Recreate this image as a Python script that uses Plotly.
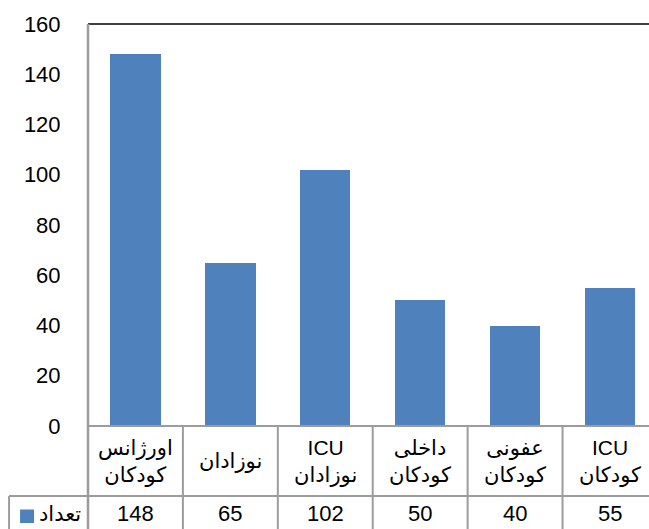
import plotly.graph_objects as go

categories = ["اورژانس<br>کودکان", "نوزادان", "ICU<br>نوزادان", "داخلی<br>کودکان", "عفونی<br>کودکان", "ICU<br>کودکان"]
values = [148, 65, 102, 50, 40, 55]
series_name = "تعداد"
y_ticks = [0, 20, 40, 60, 80, 100, 120, 140, 160]

W, H = 649, 529
L, T, B_AX = 87.5, 24, 426          # plot-area left, top, bottom (px)
PW, PH = W - L, B_AX - T
ROW2 = 496                          # table row separator (px)
XMIN, XMAX = -0.5, 5.411

BAR = "#4F81BD"
GRID = "#9c9c9c"
FONT = "Liberation Sans, DejaVu Sans, Arial, sans-serif"

def px_x(X):
    return (X - L) / PW

def px_y(Y):
    return (B_AX - Y) / PH

def cat_x(v):
    return (v - XMIN) / (XMAX - XMIN)

xs = list(range(len(categories)))

fig = go.Figure(go.Bar(x=xs, y=values, width=0.53, marker=dict(color=BAR, line=dict(width=0)), name=series_name))

shapes = []
# top border (black)
shapes.append(dict(type="line", xref="paper", yref="paper", x0=0, x1=1, y0=1, y1=1, line=dict(color="black", width=1.5)))
# left axis line through table
shapes.append(dict(type="line", xref="paper", yref="paper", x0=0, x1=0, y0=1, y1=px_y(535), line=dict(color=GRID, width=2.5)))
# bottom axis line
shapes.append(dict(type="line", xref="paper", yref="paper", x0=0, x1=1, y0=0, y1=0, line=dict(color=GRID, width=2)))
# table row separator
shapes.append(dict(type="line", xref="paper", yref="paper", x0=px_x(8.5), x1=1, y0=px_y(ROW2), y1=px_y(ROW2), line=dict(color=GRID, width=2)))
# table left edge
shapes.append(dict(type="line", xref="paper", yref="paper", x0=px_x(8.5), x1=px_x(8.5), y0=px_y(ROW2), y1=px_y(535), line=dict(color=GRID, width=2)))
# column separators
for i in range(len(categories) - 1):
    xp = cat_x(i + 0.5)
    shapes.append(dict(type="line", xref="paper", yref="paper", x0=xp, x1=xp, y0=0, y1=px_y(535), line=dict(color=GRID, width=2)))
# legend key square
shapes.append(dict(type="rect", xref="paper", yref="paper", x0=px_x(19.5), x1=px_x(33.5), y0=px_y(523), y1=px_y(509.5), fillcolor=BAR, line=dict(width=0)))

annotations = []
for i, c in enumerate(categories):
    annotations.append(dict(x=i, xref="x", y=px_y(461), yref="paper", text=c, showarrow=False,
                            xanchor="center", yanchor="middle", font=dict(family=FONT, size=21, color="black")))
    annotations.append(dict(x=i, xref="x", y=px_y(513.5), yref="paper", text=str(values[i]), showarrow=False,
                            xanchor="center", yanchor="middle", font=dict(family=FONT, size=22, color="black")))
annotations.append(dict(x=px_x(59.5), xref="paper", y=px_y(513.5), yref="paper", text=series_name, showarrow=False,
                        xanchor="center", yanchor="middle", font=dict(family=FONT, size=21, color="black")))

fig.update_layout(
    width=W, height=H,
    margin=dict(l=L, r=0, t=T, b=H - B_AX, pad=0),
    paper_bgcolor="white", plot_bgcolor="white",
    showlegend=False,
    bargap=0,
    font=dict(family=FONT, size=22, color="black"),
    xaxis=dict(range=[XMIN, XMAX], showticklabels=False, showgrid=False, zeroline=False, showline=False, ticks=""),
    yaxis=dict(range=[0, 160], tickvals=y_ticks, showgrid=False, zeroline=False, showline=False,
               ticks="outside", ticklen=0, ticklabelstandoff=22,
               tickfont=dict(family=FONT, size=22, color="black")),
    shapes=shapes,
    annotations=annotations,
)

fig.write_html("out.html",
               config={"displayModeBar": False, "staticPlot": True},
               post_script="document.body.style.margin='0';document.body.style.overflow='hidden';")
